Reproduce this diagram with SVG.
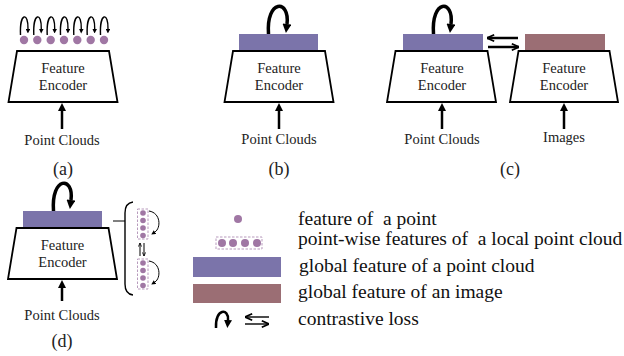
<svg xmlns="http://www.w3.org/2000/svg" width="624" height="356" viewBox="0 0 624 356">
<style>
.enc{fill:#fff;stroke:#000;stroke-width:1.8;stroke-linejoin:miter}
text{font-family:'Liberation Serif','Times New Roman','DejaVu Serif',serif}
.lbl{font-size:14.5px;fill:#222;text-anchor:middle}
.cap{font-size:18px;fill:#222;text-anchor:middle}
.leg{font-size:19.5px;fill:#111;white-space:pre}
.pbar{fill:#7b74aa}
.ibar{fill:#9b6e74}
.dot{fill:#a077a4}
.dash{fill:none;stroke:#b89bbd;stroke-width:1;stroke-dasharray:2.5,1.5}
.thick{fill:none;stroke:#000;stroke-width:3.5}
.mid{fill:none;stroke:#000;stroke-width:2.5}
.thin{fill:none;stroke:#000;stroke-width:1.4}
.hair{fill:none;stroke:#000;stroke-width:1}
</style>
<defs>
<marker id="big" viewBox="0 0 10 10" refX="0" refY="5" markerWidth="10" markerHeight="9" markerUnits="userSpaceOnUse" orient="auto"><path d="M0,0 L10,5 L0,10 z"/></marker>
<marker id="med" viewBox="0 0 10 10" refX="0" refY="5" markerWidth="8" markerHeight="8" markerUnits="userSpaceOnUse" orient="auto"><path d="M0,0 L10,5 L0,10 z"/></marker>
<marker id="sm" viewBox="0 0 10 10" refX="0" refY="5" markerWidth="4.5" markerHeight="4.5" markerUnits="userSpaceOnUse" orient="auto"><path d="M0,0 L10,5 L0,10 z"/></marker>
<marker id="open" viewBox="0 0 10 10" refX="10" refY="5" markerWidth="8" markerHeight="8" markerUnits="userSpaceOnUse" orient="auto"><path d="M1,1 L10,5 L1,9" fill="none" stroke="#000" stroke-width="2.2"/></marker>
<marker id="openS" viewBox="0 0 10 10" refX="10" refY="5" markerWidth="4" markerHeight="4" markerUnits="userSpaceOnUse" orient="auto"><path d="M1,1 L10,5 L1,9" fill="none" stroke="#000" stroke-width="2"/></marker>
</defs>

<!-- Panel (a) -->
<g id="a-encoder">
<polygon class="enc" points="17,51 109,51 117.5,102 8.5,102"/>
<text class="lbl" x="63" y="73">Feature</text>
<text class="lbl" x="63" y="90">Encoder</text>
</g>
<g id="a-points">
<circle class="dot" cx="24" cy="40" r="4.2"/>
<circle class="dot" cx="37.3" cy="40" r="4.2"/>
<circle class="dot" cx="50.7" cy="40" r="4.2"/>
<circle class="dot" cx="64" cy="40" r="4.2"/>
<circle class="dot" cx="77.3" cy="40" r="4.2"/>
<circle class="dot" cx="90.7" cy="40" r="4.2"/>
<circle class="dot" cx="104" cy="40" r="4.2"/>
</g>
<g id="a-input"><text class="lbl" x="62" y="145">Point Clouds</text></g>
<text class="cap" x="63" y="175">(a)</text>

<!-- Panel (b) -->
<g id="b-encoder">
<polygon class="enc" points="233,51 325,51 333.5,102 224.5,102"/>
<text class="lbl" x="279" y="73">Feature</text>
<text class="lbl" x="279" y="90">Encoder</text>
</g>
<g id="b-global"><rect class="pbar" x="239" y="34" width="79" height="16"/></g>
<g id="b-input"><text class="lbl" x="279" y="144">Point Clouds</text></g>
<text class="cap" x="279" y="175">(b)</text>

<!-- Panel (c) -->
<g id="c-encoder-pc">
<polygon class="enc" points="395.5,51 487.5,51 496,102 387,102"/>
<text class="lbl" x="442" y="73">Feature</text>
<text class="lbl" x="442" y="90">Encoder</text>
</g>
<g id="c-global-pc"><rect class="pbar" x="403" y="34" width="80" height="16"/></g>
<g id="c-input-pc"><text class="lbl" x="442" y="144">Point Clouds</text></g>
<g id="c-encoder-img">
<polygon class="enc" points="518.5,51 609.5,51 618,102 510,102"/>
<text class="lbl" x="564" y="73">Feature</text>
<text class="lbl" x="564" y="90">Encoder</text>
</g>
<g id="c-global-img"><rect class="ibar" x="525" y="34" width="80" height="16"/></g>
<g id="c-input-img"><text class="lbl" x="564" y="142">Images</text></g>
<text class="cap" x="510" y="175">(c)</text>

<!-- Panel (d) -->
<g id="d-encoder">
<polygon class="enc" points="16.5,228 108.5,228 117,279 8,279"/>
<text class="lbl" x="62.5" y="250">Feature</text>
<text class="lbl" x="62.5" y="267">Encoder</text>
</g>
<g id="d-global"><rect class="pbar" x="23" y="211" width="79" height="16"/></g>
<g id="d-local-1">
<rect class="dash" x="137.5" y="209" width="10.5" height="30"/>
<circle class="dot" cx="143" cy="213" r="2.8"/>
<circle class="dot" cx="143" cy="220.5" r="2.8"/>
<circle class="dot" cx="143" cy="228" r="2.8"/>
<circle class="dot" cx="143" cy="235.5" r="2.8"/>
</g>
<g id="d-local-2">
<rect class="dash" x="137.5" y="259" width="10.5" height="30"/>
<circle class="dot" cx="143" cy="263" r="2.8"/>
<circle class="dot" cx="143" cy="270.5" r="2.8"/>
<circle class="dot" cx="143" cy="278" r="2.8"/>
<circle class="dot" cx="143" cy="285.5" r="2.8"/>
</g>
<g id="d-input"><text class="lbl" x="62" y="320">Point Clouds</text></g>
<text class="cap" x="62" y="347">(d)</text>

<!-- Legend -->
<g id="legend">
<circle class="dot" cx="238" cy="219" r="4"/>
<text class="leg" x="298" y="225" xml:space="preserve">feature of  a point</text>
<rect class="dash" x="216" y="237" width="46" height="12"/>
<circle class="dot" cx="222" cy="243" r="4"/>
<circle class="dot" cx="233" cy="243" r="4"/>
<circle class="dot" cx="245" cy="243" r="4"/>
<circle class="dot" cx="257" cy="243" r="4"/>
<text class="leg" x="298" y="245" xml:space="preserve">point-wise features of  a local point cloud</text>
<rect class="pbar" x="193" y="257" width="88" height="20"/>
<text class="leg" x="299" y="272">global feature of a point cloud</text>
<rect class="ibar" x="193" y="284" width="88" height="19"/>
<text class="leg" x="298" y="298">global feature of an image</text>
<path class="mid" d="M216,328 C215,308 229,308 228,320" marker-end="url(#med)"/>
<path class="thin" d="M269,317 L245,317" marker-end="url(#open)"/>
<path class="thin" d="M245,324 L269,324" marker-end="url(#open)"/>
<text class="leg" x="298" y="325">contrastive loss</text>
</g>

<!-- Connectors -->
<g id="connectors">
<!-- (a) -->
<line class="mid" x1="62" y1="129" x2="62" y2="111" marker-end="url(#med)"/>
<path class="thin" d="M20.5,35 C19.5,12 28.5,12 28,29" marker-end="url(#sm)"/>
<path class="thin" d="M33.8,35 C32.8,12 41.8,12 41.3,29" marker-end="url(#sm)"/>
<path class="thin" d="M47.2,35 C46.2,12 55.2,12 54.7,29" marker-end="url(#sm)"/>
<path class="thin" d="M60.5,35 C59.5,12 68.5,12 68,29" marker-end="url(#sm)"/>
<path class="thin" d="M73.8,35 C72.8,12 81.8,12 81.3,29" marker-end="url(#sm)"/>
<path class="thin" d="M87.2,35 C86.2,12 95.2,12 94.7,29" marker-end="url(#sm)"/>
<path class="thin" d="M100.5,35 C99.5,12 108.5,12 108,29" marker-end="url(#sm)"/>
<!-- (b) -->
<line class="mid" x1="279" y1="129" x2="279" y2="111" marker-end="url(#med)"/>
<path class="thick" d="M268.5,34 C266,-1 290,-1 287,24" marker-end="url(#big)"/>
<!-- (c) -->
<line class="mid" x1="442" y1="129" x2="442" y2="111" marker-end="url(#med)"/>
<line class="mid" x1="564" y1="129" x2="564" y2="111" marker-end="url(#med)"/>
<path class="thick" d="M433.5,34 C431,-1 454,-1 451,24" marker-end="url(#big)"/>
<path class="mid" d="M518,38 L487,38" marker-end="url(#open)"/>
<path class="mid" d="M488,47 L519,47" marker-end="url(#open)"/>
<!-- (d) -->
<line class="mid" x1="62" y1="301" x2="62" y2="288" marker-end="url(#med)"/>
<path class="thick" d="M53.5,211 C51,176 74,176 71,200" marker-end="url(#big)"/>
<line class="hair" x1="113" y1="221" x2="125" y2="221"/>
<path class="thin" d="M133,202 Q125,203 125,213 L125,284 Q125,294 133,295"/>
<path class="hair" d="M149,211 C161,213 161,228 155,232" marker-end="url(#sm)"/>
<path class="hair" d="M149,261 C161,263 161,278 155,282" marker-end="url(#sm)"/>
<path class="hair" d="M140,256 L140,243" marker-end="url(#openS)"/>
<path class="hair" d="M144,243 L144,256" marker-end="url(#openS)"/>
</g>
</svg>
